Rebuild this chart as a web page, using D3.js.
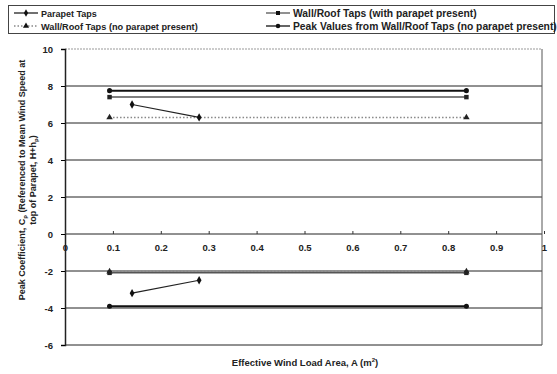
<!DOCTYPE html>
<html>
<head>
<meta charset="utf-8">
<script src="https://d3js.org/d3.v7.min.js"></script>
<style>
  body { margin: 0; background: #fff; }
  text { font-family: Arial, "Liberation Sans", sans-serif; font-weight: bold; fill: #222; }
</style>
</head>
<body>
<div id="chart"></div>
<script>
var W = 557, H = 374;
var margin = {left: 65, right: 15, top: 49, bottom: 29};

var yTicks = [10, 8, 6, 4, 2, 0, -2, -4, -6];
var xTicks = [0, 0.1, 0.2, 0.3, 0.4, 0.5, 0.6, 0.7, 0.8, 0.9, 1];

// each series: upper and lower segments
var parapetUp = [[0.14, 7.0], [0.28, 6.3]];
var parapetLo = [[0.14, -3.2], [0.28, -2.5]];
var withParUp = [[0.093, 7.4], [0.838, 7.4]];
var withParLo = [[0.093, -2.1], [0.838, -2.1]];
var noParUp = [[0.093, 6.3], [0.838, 6.3]];
var noParLo = [[0.093, -2.03], [0.838, -2.03]];
var peakUp = [[0.093, 7.75], [0.838, 7.75]];
var peakLo = [[0.093, -3.9], [0.838, -3.9]];

var svg = d3.select("#chart").append("svg").attr("width", W).attr("height", H);

var x = d3.scaleLinear().domain([0, 1]).range([margin.left, 544]);
var y = d3.scaleLinear().domain([-6, 10]).range([345, margin.top]);

// grid lines
svg.append("g").selectAll("line").data(yTicks).enter().append("line")
  .attr("x1", x(0)).attr("x2", 542)
  .attr("y1", d => y(d)).attr("y2", d => y(d))
  .attr("stroke", d => d == 10 ? "#999" : "#222")
  .attr("stroke-dasharray", d => d == 10 ? "2,1" : null)
  .attr("stroke-width", 1);
// right border
svg.append("line").attr("x1", 542).attr("x2", 542).attr("y1", y(10)).attr("y2", y(-6))
  .attr("stroke", "#555").attr("stroke-width", 1);

// y axis
var yAxis = svg.append("g").attr("transform", "translate(" + x(0) + ",0)")
  .call(d3.axisLeft(y).tickValues(yTicks).tickSize(4).tickPadding(8).tickFormat(d => String(d)));
yAxis.select(".domain").attr("stroke", "#222").attr("stroke-width", 1.5);
yAxis.selectAll("text").style("font-size", "9.5px").style("font-weight", "bold").attr("fill", "#222");

// x axis crossing at 0
var xAxis = svg.append("g").attr("transform", "translate(0," + y(0) + ")")
  .call(d3.axisBottom(x).tickValues(xTicks).tickSize(3).tickPadding(7).tickFormat(d => d));
xAxis.select(".domain").remove();
xAxis.selectAll("line").attr("transform", "translate(0,-3)").attr("stroke", "#333");
xAxis.selectAll("text").style("font-size", "9.5px").style("font-weight", "bold").attr("fill", "#222");

var line = d3.line().x(d => x(d[0])).y(d => y(d[1]));

function drawLine(data, color, width, dash) {
  svg.append("path").datum(data).attr("d", line)
    .attr("fill", "none").attr("stroke", color).attr("stroke-width", width)
    .attr("stroke-dasharray", dash);
}
function drawMarkers(data, shape, size, color) {
  svg.append("g").selectAll("path").data(data).enter().append("path")
    .attr("d", d3.symbol().type(shape).size(size))
    .attr("transform", d => "translate(" + x(d[0]) + "," + y(d[1]) + ")")
    .attr("fill", color);
}

// Wall/Roof no parapet (dotted, triangles)
[noParUp, noParLo].forEach(function (s) {
  drawLine(s, "#888", 1.5, "1.5,2");
  drawMarkers(s, d3.symbolTriangle, 18, "#222");
});
// Wall/Roof with parapet (squares)
[withParUp, withParLo].forEach(function (s) {
  drawLine(s, "#555", 1.5, null);
  drawMarkers(s, d3.symbolSquare, 20, "#222");
});
// Peak values (circles)
[peakUp, peakLo].forEach(function (s) {
  drawLine(s, "#111", 2, null);
  drawMarkers(s, d3.symbolCircle, 20, "#111");
});
// Parapet taps (diamonds)
[parapetUp, parapetLo].forEach(function (s) {
  drawLine(s, "#222", 1.2, null);
  drawMarkers(s, d3.symbolDiamond, 20, "#111");
});

// legend
var leg = svg.append("g");
leg.append("rect").attr("x", 8.5).attr("y", 5.5).attr("width", 546).attr("height", 28)
  .attr("fill", "#fff").attr("stroke", "#444").attr("stroke-width", 1);
var legendItems = [
  {label: "Parapet Taps", lx: 14, ly: 13, fs: 9, color: "#222", dash: null, shape: d3.symbolDiamond},
  {label: "Wall/Roof Taps (with parapet present)", lx: 266, ly: 13, fs: 10.3, color: "#555", dash: null, shape: d3.symbolSquare},
  {label: "Wall/Roof Taps (no parapet present)", lx: 14, ly: 26, fs: 9.2, color: "#888", dash: "1.5,2", shape: d3.symbolTriangle},
  {label: "Peak Values from Wall/Roof Taps (no parapet present)", lx: 266, ly: 26, fs: 10.3, color: "#111", dash: null, shape: d3.symbolCircle}
];
legendItems.forEach(function (it) {
  leg.append("line").attr("x1", it.lx).attr("x2", it.lx + 24).attr("y1", it.ly).attr("y2", it.ly)
    .attr("stroke", it.color).attr("stroke-width", 1.3).attr("stroke-dasharray", it.dash);
  leg.append("path").attr("d", d3.symbol().type(it.shape).size(16))
    .attr("transform", "translate(" + (it.lx + 12) + "," + it.ly + ")").attr("fill", "#111");
  leg.append("text").attr("x", it.lx + 27).attr("y", it.ly + 3.5)
    .style("font-size", it.fs + "px").text(it.label);
});

// axis titles
var yt = svg.append("text").attr("transform", "translate(25,180) rotate(-90)")
  .attr("text-anchor", "middle").style("font-size", "9px");
yt.append("tspan").attr("x", 0).attr("dy", 0).text("Peak Coefficient, C");
yt.append("tspan").attr("dy", 2).style("font-size", "6px").text("p");
yt.append("tspan").attr("dy", -2).text(" (Referenced to Mean Wind Speed  at");
var yt2 = svg.append("text").attr("transform", "translate(36,180) rotate(-90)")
  .attr("text-anchor", "middle").style("font-size", "9px");
yt2.append("tspan").text("top of Parapet, H+h");
yt2.append("tspan").attr("dy", 2).style("font-size", "6px").text("p");
yt2.append("tspan").attr("dy", -2).text(")");

var xt = svg.append("text").attr("x", 305).attr("y", 366).attr("text-anchor", "middle")
  .style("font-size", "9.5px");
xt.append("tspan").text("Effective Wind Load Area, A (m");
xt.append("tspan").attr("dy", -4).style("font-size", "6px").text("2");
xt.append("tspan").attr("dy", 4).text(")");
</script>
</body>
</html>
